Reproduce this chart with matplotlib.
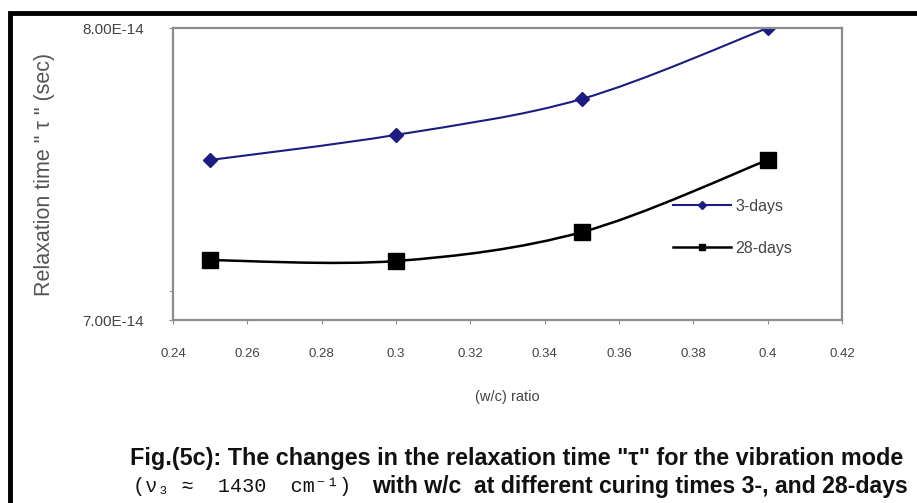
import numpy as np
import matplotlib
matplotlib.use("Agg")
import matplotlib.pyplot as plt
from matplotlib.path import Path
from matplotlib.patches import PathPatch, Rectangle
from matplotlib.lines import Line2D

# data
wc_ratio = [0.25, 0.30, 0.35, 0.40]
tau_3days = [7.548e-14, 7.634e-14, 7.757e-14, 8.000e-14]
tau_28days = [7.205e-14, 7.202e-14, 7.301e-14, 7.548e-14]
series_names = ["3-days", "28-days"]
x_ticks = [0.24, 0.26, 0.28, 0.30, 0.32, 0.34, 0.36, 0.38, 0.40, 0.42]
x_ticklabels = ["0.24", "0.26", "0.28", "0.3", "0.32", "0.34", "0.36", "0.38", "0.4", "0.42"]
y_ticks = [7.0e-14, 8.0e-14]
y_ticklabels = ["7.00E-14", "8.00E-14"]


def smooth_path(x, y):
    # Excel-style smoothed line: cubic bezier segments through the points
    pts = np.column_stack([x, y]).astype(float)
    n = len(pts)
    verts = [pts[0]]
    codes = [Path.MOVETO]
    for i in range(n - 1):
        p0 = pts[max(i - 1, 0)]
        p1 = pts[i]
        p2 = pts[i + 1]
        p3 = pts[min(i + 2, n - 1)]
        c1 = p1 + (p2 - p0) / 6.0
        c2 = p2 - (p3 - p1) / 6.0
        verts += [c1, c2, p2]
        codes += [Path.CURVE4] * 3
    return Path(verts, codes)


W, H = 917, 503
fig = plt.figure(figsize=(W / 100, H / 100), dpi=100)
fig.patch.set_facecolor("white")

# outer black frame (left and top visible)
fig.add_artist(Rectangle((10 / W, -0.05), 1.1, (H - 13) / H + 0.05,
                         transform=fig.transFigure, fill=False,
                         edgecolor="black", linewidth=3.5))

ax = fig.add_axes([173 / W, (H - 320) / H, (842 - 173) / W, (320 - 28) / H])

navy = "#1c1c82"
ax.add_patch(PathPatch(smooth_path(wc_ratio, tau_3days), fill=False,
                       edgecolor=navy, linewidth=1.5))
ax.plot(wc_ratio, tau_3days, linestyle="none", marker="D", markersize=7,
        color=navy)
ax.add_patch(PathPatch(smooth_path(wc_ratio, tau_28days), fill=False,
                       edgecolor="black", linewidth=1.8))
ax.plot(wc_ratio, tau_28days, linestyle="none", marker="s", markersize=12,
        color="black")

ax.set_xlim(0.24, 0.42)
ax.set_ylim(7.0e-14, 8.0e-14)
ax.set_xticks(x_ticks)
ax.set_xticklabels(x_ticklabels)
ax.set_yticks(y_ticks)
ax.set_yticklabels(y_ticklabels)
ax.set_yticks([7.1e-14], minor=True)

for s in ax.spines.values():
    s.set_color("#8c8c8c")
    s.set_linewidth(1.6)

ax.tick_params(axis="x", direction="out", length=3, color="#8c8c8c",
               pad=17, labelsize=9.5, labelcolor="#444444")
ax.tick_params(axis="y", direction="out", length=3, color="#8c8c8c",
               pad=18, labelsize=11, labelcolor="#444444")
ax.tick_params(axis="y", which="minor", length=3, color="#8c8c8c")
for lbl in ax.get_xticklabels() + ax.get_yticklabels():
    lbl.set_fontfamily("Liberation Sans")

ax.set_xlabel("(w/c) ratio", fontsize=10.5, color="#444444",
              family="Liberation Sans", labelpad=22)
ax.set_ylabel('Relaxation time " τ " (sec)', fontsize=15.5, color="#555555",
              family=["Liberation Sans", "DejaVu Sans"])
ax.yaxis.set_label_coords(-0.176, 0.5)

handles = [
    Line2D([], [], color=navy, linewidth=1.5, marker="D", markersize=4),
    Line2D([], [], color="black", linewidth=1.8, marker="s", markersize=5),
]
ax.legend(handles, series_names, loc="upper left",
          bbox_to_anchor=(0.748, 0.415), frameon=False, borderpad=0,
          borderaxespad=0, handlelength=3.6, handletextpad=0.3,
          labelspacing=1.7,
          prop={"family": "Liberation Sans", "size": 11.5}, labelcolor="#444444")

# caption
cap_font = ["Liberation Sans", "DejaVu Sans"]
fig.text(130 / W, (H - 458) / H,
         'Fig.(5c): The changes in the relaxation time "τ" for the vibration mode',
         fontsize=16.8, fontweight="bold", family=cap_font, color="#111111",
         va="center", ha="left")
fig.text(133 / W, (H - 487) / H, "(ν₃ ≈  1430  cm⁻¹)",
         fontsize=14.5, family=["Liberation Mono", "DejaVu Sans Mono"],
         color="#111111", va="center", ha="left")
fig.text(908 / W, (H - 487) / H,
         "with w/c  at different curing times 3-, and 28-days",
         fontsize=16.6, fontweight="bold", family=cap_font, color="#111111",
         va="center", ha="right")

fig.savefig("out.png", dpi=100, facecolor="white")
